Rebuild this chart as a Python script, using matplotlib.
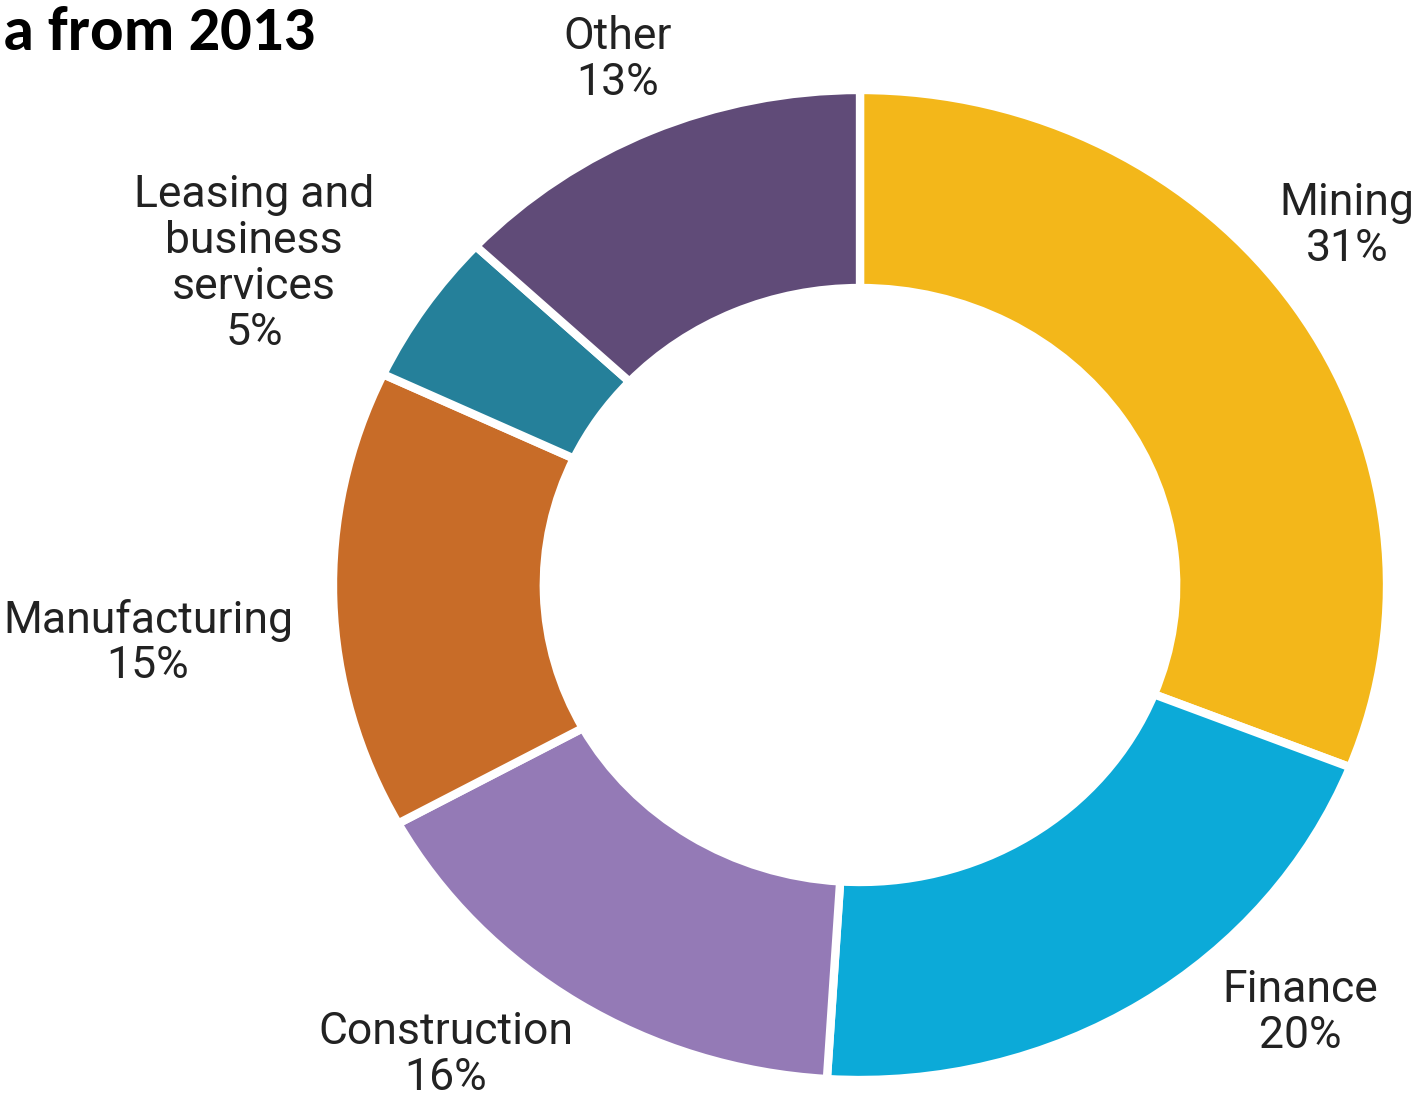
import matplotlib
matplotlib.use('Agg')
import matplotlib.pyplot as plt

sectors = ['Mining', 'Finance', 'Construction', 'Manufacturing',
           'Leasing and\nbusiness\nservices', 'Other']
shares = [31, 20, 16, 15, 5, 13]
colors = ['#f3b71a', '#0caad8', '#947ab6', '#c86c28', '#25809a', '#604b78']

# label anchor points (figure pixels from top-left)
label_pos = [(1347, 226), (1300, 1013), (446, 1055), (148, 643),
             (254, 264), (618, 60)]

W, H = 1419, 1101
fig = plt.figure(figsize=(W / 100, H / 100), dpi=100)

# donut is slightly wider than tall, so the axes box sets its shape
cx, cy, rx, ry = 860, 585, 527, 495
ax = fig.add_axes([(cx - rx) / W, 1 - (cy + ry) / H, 2 * rx / W, 2 * ry / H])
ax.pie(shares, colors=colors, startangle=90, counterclock=False,
       radius=1.0, wedgeprops=dict(width=0.4, edgecolor='white', linewidth=6))
ax.set_aspect('auto')
ax.set_xlim(-1, 1)
ax.set_ylim(-1, 1)
ax.axis('off')

lab_font = ['Roboto', 'DejaVu Sans']
for name, val, (px, py) in zip(sectors, shares, label_pos):
    fig.text(px / W, 1 - py / H, f'{name}\n{val}%', ha='center', va='center',
             fontsize=32, family=lab_font, color='#222222', linespacing=1.12)

fig.text(3 / W, 1 - 50 / H, 'a from 2013', ha='left', va='baseline',
         fontsize=45, fontweight='bold', family=['Carlito', 'Lato', 'DejaVu Sans'])

fig.savefig('out.png', dpi=100)
